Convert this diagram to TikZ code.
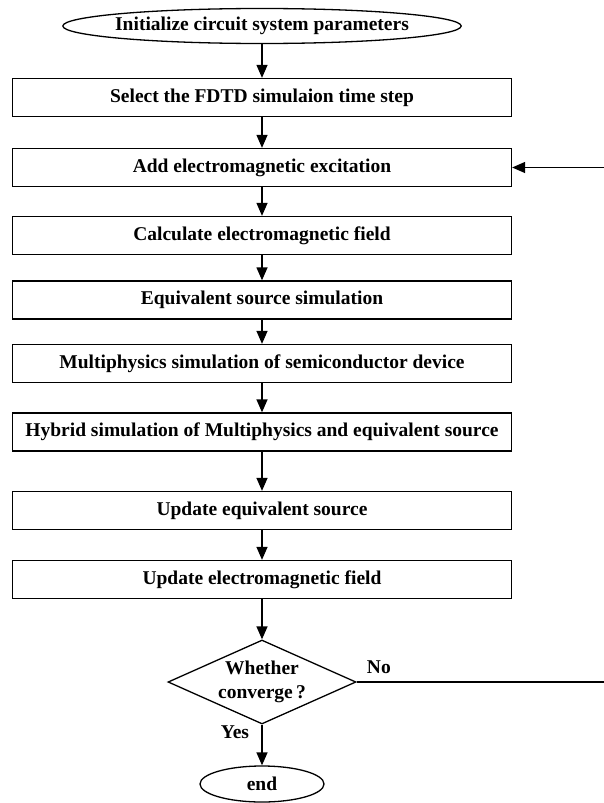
\documentclass[tikz,border=0pt]{standalone}
\usepackage{fontspec}
\setmainfont{Liberation Serif}
\usetikzlibrary{shapes.geometric,arrows.meta}

\tikzset{
	stepbox/.style={draw, rectangle, minimum width=499pt, minimum height=38pt, inner sep=0pt},
	termbox/.style={draw, ellipse, inner sep=0pt},
	flowline/.style={-{Triangle[length=13pt,width=11pt]}}
}

\begin{document}
\begin{tikzpicture}[x=1pt, y=-1pt, line width=1.3pt,
	every node/.append style={font=\fontsize{19.5}{24}\selectfont\bfseries}]
		\useasboundingbox (0,0) rectangle (604,803);
		\pgfmathsetmacro{\midx}{262}
		
		\node[termbox, inner xsep=-6pt, minimum width=398pt, minimum height=35pt] (init) at (\midx,26) {Initialize circuit system parameters};
		\foreach \y/\txt[count=\i] in {97.5/Select the FDTD simulaion time step,
			167.5/Add electromagnetic excitation,
			235.5/Calculate electromagnetic field,
			300/Equivalent source simulation,
			363.5/Multiphysics simulation of semiconductor device,
			432/Hybrid simulation of Multiphysics and equivalent source,
			510.5/Update equivalent source,
			579.5/Update electromagnetic field}
		{
			\node[stepbox] (step\i) at (\midx,\y) {\txt};
		}
		\node[draw, diamond, aspect=2.2, inner sep=0pt, minimum width=188pt, minimum height=84pt, align=center] (conv) at (\midx,682) {Whether\\converge\,?};
		\node[termbox, minimum width=124pt, minimum height=36pt] (stop) at (\midx,784) {end};
		
		\coordinate (noend) at (604,682);
		\coordinate (backin) at (604,167.5);
		
		\draw[flowline] (init) -- (step1);
		\foreach \i[count=\j from 2] in {1, 2, ..., 7}
		{
			\draw[flowline] (step\i) -- (step\j);
		}
		\draw[flowline] (step8) -- (conv);
		\draw[flowline] (conv) -- node[pos=0.18, left=9pt] {Yes} (stop);
		\draw (conv) -- node[pos=0.09, above=4pt] {No} (noend);
		\draw[flowline] (backin) -- (step2);
	\end{tikzpicture}
\end{document}
